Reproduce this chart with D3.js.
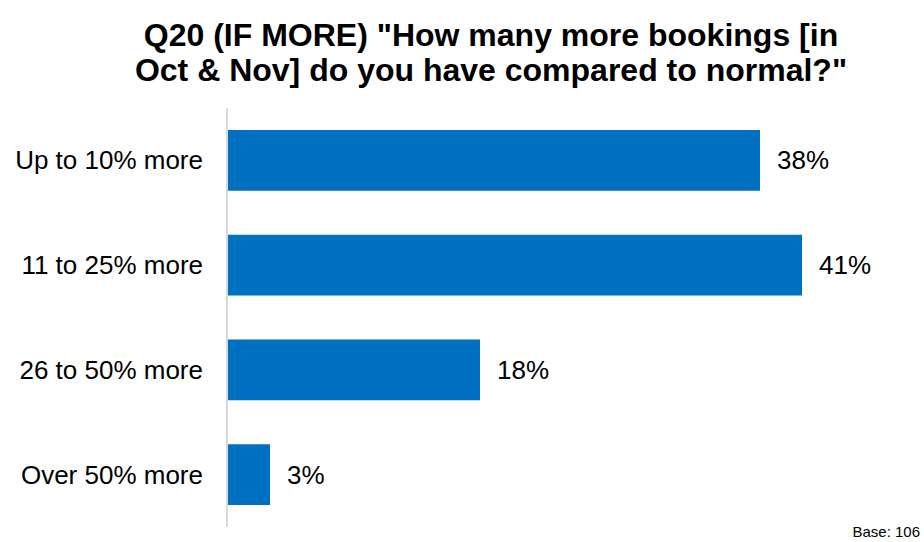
<!DOCTYPE html>
<html>
<head>
<meta charset="utf-8">
<script src="https://cdn.jsdelivr.net/npm/d3@7"></script>
<style>
  html, body { margin: 0; padding: 0; background: #ffffff; }
  svg { display: block; font-family: "Liberation Sans", Arial, sans-serif; }
</style>
</head>
<body>
<svg id="chart" width="924" height="542"></svg>
<script>
// Survey answers and share of respondents (%)
const categories = ["Up to 10% more", "11 to 25% more", "26 to 50% more", "Over 50% more"];
const values = [38, 41, 18, 3];
const titleLines = ["Q20 (IF MORE) \"How many more bookings [in", "Oct & Nov] do you have compared to normal?\""];
const baseNote = "Base: 106";

const svg = d3.select("#chart");
const W = 924, H = 542;
const margin = { left: 228, top: 108, bottom: 15 };

const x = d3.scaleLinear().domain([0, 50]).range([margin.left, margin.left + 700]);
const y = d3.scaleBand().domain(categories).range([margin.top, H - margin.bottom]).paddingInner(0.42).paddingOuter(0.21);

// Title
svg.append("g").selectAll("text").data(titleLines).join("text")
  .attr("x", 491)
  .attr("y", (d, i) => 46 + i * 35)
  .attr("text-anchor", "middle")
  .attr("font-size", 32)
  .attr("font-weight", "bold")
  .attr("fill", "#000")
  .text(d => d);

// Bars
svg.append("g").selectAll("rect").data(values).join("rect")
  .attr("x", x(0))
  .attr("y", (d, i) => y(categories[i]))
  .attr("width", d => x(d) - x(0))
  .attr("height", y.bandwidth())
  .attr("fill", "#0070C0");

// Category axis line
svg.append("line")
  .attr("x1", margin.left - 1).attr("x2", margin.left - 1)
  .attr("y1", margin.top).attr("y2", H - margin.bottom)
  .attr("stroke", "#d9d9d9").attr("stroke-width", 2);

// Category labels
svg.append("g").selectAll("text").data(categories).join("text")
  .attr("x", margin.left - 25)
  .attr("y", d => y(d) + y.bandwidth() / 2)
  .attr("dy", "0.35em")
  .attr("text-anchor", "end")
  .attr("font-size", 26)
  .attr("fill", "#000")
  .text(d => d);

// Value labels
svg.append("g").selectAll("text").data(values).join("text")
  .attr("x", d => x(d) + 17)
  .attr("y", (d, i) => y(categories[i]) + y.bandwidth() / 2)
  .attr("dy", "0.35em")
  .attr("font-size", 26)
  .attr("fill", "#000")
  .text(d => d + "%");

// Base note
svg.append("text")
  .attr("x", 920).attr("y", 537)
  .attr("text-anchor", "end")
  .attr("font-size", 15)
  .attr("fill", "#000")
  .text(baseNote);
</script>
</body>
</html>
